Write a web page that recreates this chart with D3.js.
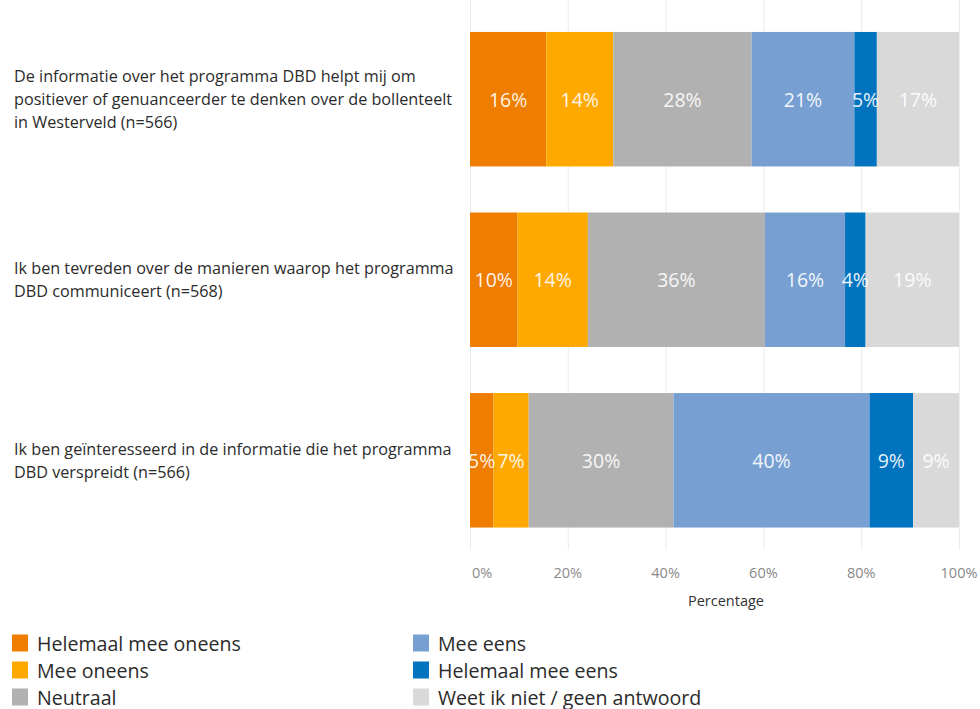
<!DOCTYPE html>
<html><head><meta charset="utf-8">
<script src="https://cdn.jsdelivr.net/npm/d3@7"></script>
<style>body{margin:0;background:#fff;} svg{display:block;font-family:"Open Sans",sans-serif;}</style>
</head><body>
<script>
const categories = [
  ["De informatie over het programma DBD helpt mij om","positiever of genuanceerder te denken over de bollenteelt","in Westerveld (n=566)"],
  ["Ik ben tevreden over de manieren waarop het programma","DBD communiceert (n=568)"],
  ["Ik ben geïnteresseerd in de informatie die het programma","DBD verspreidt (n=566)"]
];
const seriesNames = ["Helemaal mee oneens","Mee oneens","Neutraal","Mee eens","Helemaal mee eens","Weet ik niet / geen antwoord"];
const seriesColors = ["#EF7D00","#FFA800","#B1B1B1","#779FD2","#0173BF","#D9D9D9"];
const helemaalMeeOneens = [15.6, 9.7, 4.8];
const meeOneens = [13.7, 14.4, 7.2];
const neutraal = [28.3, 36.2, 29.6];
const meeEens = [21.0, 16.4, 40.1];
const helemaalMeeEens = [4.6, 4.2, 8.9];
const weetNiet = [16.8, 19.1, 9.4];
const tickValues = [0, 20, 40, 60, 80, 100];

const seriesValues = [helemaalMeeOneens, meeOneens, neutraal, meeEens, helemaalMeeEens, weetNiet];
const W = 980, H = 709;
const svg = d3.select("body").append("svg").attr("width", W).attr("height", H);

const rows = categories.map((c, i) => {
  const r = {key: i};
  seriesNames.forEach((s, j) => r[s] = seriesValues[j][i]);
  return r;
});
const stacked = d3.stack().keys(seriesNames)(rows);

const x = d3.scaleLinear().domain([0, 100]).range([470, 959]);
const y = d3.scaleBand().domain(d3.range(categories.length)).range([0, 559.5])
  .paddingInner(0.255).paddingOuter(0.177);
const color = d3.scaleOrdinal().domain(seriesNames).range(seriesColors);

// gridlines
svg.append("g").selectAll("line").data(tickValues).join("line")
  .attr("x1", d => x(d) + 0.5).attr("x2", d => x(d) + 0.5)
  .attr("y1", 0).attr("y2", 550)
  .attr("stroke", "#ececec").attr("stroke-width", 1);

// bars
const g = svg.append("g");
stacked.forEach(s => {
  g.append("g").attr("fill", color(s.key)).selectAll("rect").data(s).join("rect")
    .attr("x", d => x(d[0])).attr("width", d => x(d[1]) - x(d[0]))
    .attr("y", (d, i) => y(i)).attr("height", y.bandwidth());
});
// bar labels
stacked.forEach(s => {
  g.append("g").selectAll("text").data(s).join("text")
    .attr("x", d => (x(d[0]) + x(d[1])) / 2)
    .attr("y", (d, i) => y(i) + y.bandwidth() / 2)
    .attr("text-anchor", "middle").attr("dominant-baseline", "central")
    .attr("fill", "#fff").attr("fill-opacity", 0.92)
    .attr("font-size", 19.5)
    .text(d => Math.round(d[1] - d[0]) + "%");
});

// category labels
const lh = 23;
categories.forEach((lines, i) => {
  const cy = y(i) + y.bandwidth() / 2;
  const t = svg.append("text").attr("x", 14).attr("font-size", 16.2).attr("fill", "#2b2b2b");
  lines.forEach((ln, k) => {
    t.append("tspan").attr("x", 14)
      .attr("y", cy + (k - (lines.length - 1) / 2) * lh)
      .attr("dominant-baseline", "central").text(ln);
  });
});

// x axis tick labels
svg.append("g").selectAll("text").data(tickValues).join("text")
  .attr("x", d => d === 0 ? x(d) + 2 : x(d))
  .attr("y", 572)
  .attr("text-anchor", d => d === 0 ? "start" : "middle")
  .attr("dominant-baseline", "central")
  .attr("font-size", 14.5).attr("fill", "#8a8a8a")
  .text(d => d + "%");
svg.append("text").attr("x", 726).attr("y", 600).attr("text-anchor", "middle")
  .attr("dominant-baseline", "central").attr("font-size", 14.5).attr("fill", "#333")
  .text("Percentage");

// legend
const leg = svg.append("g");
seriesNames.forEach((s, i) => {
  const col = Math.floor(i / 3), row = i % 3;
  const lx = col === 0 ? 12 : 413, ly = 643 + row * 27;
  leg.append("rect").attr("x", lx).attr("y", ly - 8.5).attr("width", 16).attr("height", 17).attr("fill", color(s));
  leg.append("text").attr("x", lx + 25).attr("y", ly).attr("dominant-baseline", "central")
    .attr("font-size", 19.6).attr("fill", "#2b2b2b").text(s);
});
</script>
</body></html>
